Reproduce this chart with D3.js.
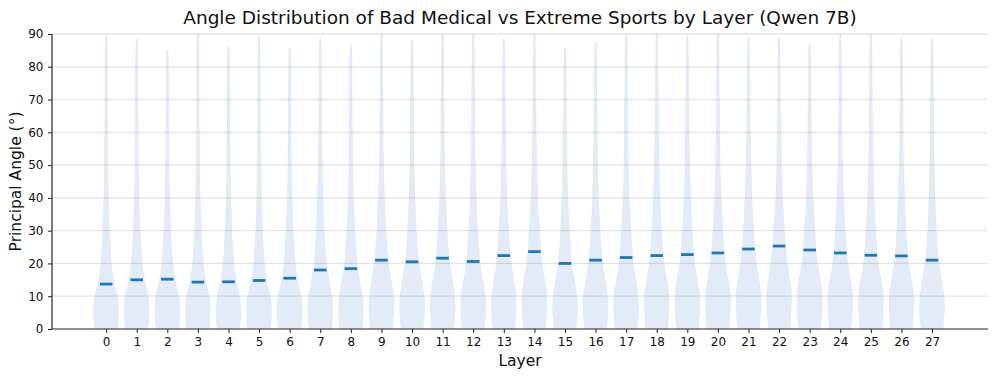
<!DOCTYPE html>
<html>
<head>
<meta charset="utf-8">
<script src="https://cdn.jsdelivr.net/npm/d3@7"></script>
<style>
  body { margin: 0; background: #fff; }
  svg text { font-family: "DejaVu Sans", sans-serif; fill: #111; }
</style>
</head>
<body>
<svg id="chart" width="997" height="378"></svg>
<script>
// layers 0..27
var layers = d3.range(0, 28);

// median principal angle per layer (dark bar)
var medians = [13.7, 15.0, 15.2, 14.3, 14.4, 14.8, 15.5, 18.0, 18.4, 21.0,
               20.5, 21.6, 20.6, 22.4, 23.6, 20.0, 21.0, 21.8, 22.4, 22.7,
               23.2, 24.4, 25.3, 24.1, 23.2, 22.5, 22.3, 21.0];

// top of each violin tail
var maxAngles = [89.5, 88.5, 85.1, 90.5, 86.3, 89.2, 85.6, 88.9, 86.8, 90.5,
                 88.2, 90.5, 90.5, 88.6, 90.5, 85.7, 87.6, 89.5, 90.5, 89.5,
                 90.5, 88.8, 89.0, 87.1, 90.5, 90.5, 89.1, 88.5];

var knotAngles = [0, 3, 6, 10, 15, 20, 25, 30, 40, 50, 60, 70, 80];

// relative half-width (1 = widest) at each knot, one row per layer
var violinWidths = [
  [0.90, 0.98, 1.00, 0.90, 0.58, 0.43, 0.34, 0.27, 0.19, 0.14, 0.12, 0.11, 0.10],
  [0.90, 0.98, 1.00, 0.91, 0.62, 0.45, 0.35, 0.28, 0.19, 0.14, 0.12, 0.11, 0.10],
  [0.90, 0.98, 1.00, 0.91, 0.63, 0.45, 0.35, 0.28, 0.19, 0.14, 0.12, 0.11, 0.09],
  [0.90, 0.98, 1.00, 0.90, 0.60, 0.44, 0.34, 0.27, 0.19, 0.14, 0.12, 0.11, 0.10],
  [0.90, 0.98, 1.00, 0.90, 0.60, 0.44, 0.34, 0.27, 0.19, 0.14, 0.12, 0.11, 0.10],
  [0.90, 0.98, 1.00, 0.90, 0.61, 0.44, 0.35, 0.28, 0.19, 0.14, 0.12, 0.11, 0.10],
  [0.90, 0.98, 1.00, 0.91, 0.64, 0.46, 0.36, 0.29, 0.20, 0.15, 0.12, 0.11, 0.09],
  [0.90, 0.97, 1.00, 0.93, 0.70, 0.50, 0.40, 0.32, 0.22, 0.16, 0.13, 0.11, 0.10],
  [0.90, 0.97, 1.00, 0.93, 0.71, 0.51, 0.41, 0.33, 0.22, 0.16, 0.13, 0.11, 0.10],
  [0.88, 0.95, 1.00, 0.97, 0.77, 0.56, 0.45, 0.37, 0.25, 0.18, 0.14, 0.12, 0.10],
  [0.88, 0.95, 1.00, 0.96, 0.76, 0.55, 0.44, 0.36, 0.24, 0.17, 0.14, 0.12, 0.10],
  [0.88, 0.95, 1.00, 0.97, 0.78, 0.57, 0.46, 0.37, 0.25, 0.18, 0.14, 0.12, 0.10],
  [0.88, 0.95, 1.00, 0.96, 0.76, 0.55, 0.45, 0.36, 0.25, 0.18, 0.14, 0.12, 0.10],
  [0.87, 0.94, 0.99, 0.98, 0.80, 0.60, 0.47, 0.39, 0.26, 0.19, 0.15, 0.12, 0.10],
  [0.86, 0.93, 0.98, 1.00, 0.83, 0.62, 0.49, 0.41, 0.28, 0.20, 0.15, 0.12, 0.10],
  [0.88, 0.95, 1.00, 0.96, 0.75, 0.54, 0.44, 0.36, 0.24, 0.17, 0.14, 0.12, 0.09],
  [0.88, 0.95, 1.00, 0.97, 0.77, 0.56, 0.45, 0.37, 0.25, 0.18, 0.14, 0.12, 0.10],
  [0.88, 0.95, 1.00, 0.97, 0.78, 0.57, 0.46, 0.38, 0.25, 0.18, 0.14, 0.12, 0.10],
  [0.87, 0.94, 0.99, 0.98, 0.80, 0.59, 0.47, 0.39, 0.26, 0.19, 0.15, 0.12, 0.10],
  [0.87, 0.94, 0.99, 0.98, 0.81, 0.60, 0.48, 0.39, 0.26, 0.19, 0.15, 0.12, 0.10],
  [0.86, 0.93, 0.98, 1.00, 0.82, 0.61, 0.48, 0.40, 0.27, 0.19, 0.15, 0.12, 0.10],
  [0.85, 0.93, 0.98, 1.00, 0.84, 0.64, 0.50, 0.42, 0.28, 0.20, 0.15, 0.12, 0.10],
  [0.85, 0.92, 0.97, 1.00, 0.86, 0.67, 0.52, 0.44, 0.28, 0.20, 0.15, 0.12, 0.10],
  [0.85, 0.93, 0.98, 1.00, 0.84, 0.63, 0.50, 0.42, 0.28, 0.20, 0.15, 0.12, 0.10],
  [0.86, 0.93, 0.98, 1.00, 0.82, 0.61, 0.48, 0.40, 0.27, 0.19, 0.15, 0.12, 0.10],
  [0.87, 0.94, 0.99, 0.98, 0.80, 0.59, 0.47, 0.39, 0.26, 0.19, 0.15, 0.12, 0.10],
  [0.87, 0.94, 0.99, 0.98, 0.79, 0.58, 0.46, 0.38, 0.26, 0.18, 0.14, 0.12, 0.10],
  [0.88, 0.95, 1.00, 0.96, 0.76, 0.55, 0.44, 0.36, 0.25, 0.18, 0.14, 0.12, 0.10]
];

var yTicks = [0, 10, 20, 30, 40, 50, 60, 70, 80, 90];

var titleText = "Angle Distribution of Bad Medical vs Extreme Sports by Layer (Qwen 7B)";
var xLabelText = "Layer";
var yLabelText = "Principal Angle (°)";

/* ---- setup ---- */
var W = 997, H = 378;
var margin = { top: 34, right: 9, bottom: 49, left: 52 };
var plotW = W - margin.left - margin.right;
var plotH = H - margin.top - margin.bottom;

var svg = d3.select("#chart");
var g = svg.append("g").attr("transform", "translate(" + margin.left + "," + margin.top + ")");

var x = d3.scaleLinear().domain([-1.77, 28.83]).range([0, plotW]);
var y = d3.scaleLinear().domain([0, 90]).range([plotH, 0]);

var halfWidth = 0.41;   // data units, widest point of a violin
var medianHalf = 0.205;

g.append("clipPath").attr("id", "plotclip")
  .append("rect").attr("x", 0).attr("y", 0).attr("width", plotW).attr("height", plotH);

/* gridlines */
g.append("g").attr("class", "grid")
  .selectAll("line")
  .data(yTicks.filter(function(d) { return d > 0; }))
  .enter().append("line")
  .attr("x1", 0).attr("x2", plotW)
  .attr("y1", function(d) { return y(d); })
  .attr("y2", function(d) { return y(d); })
  .attr("stroke", "#e1e4e8")
  .attr("stroke-width", 1.3);

/* violins */
var area = d3.area()
  .curve(d3.curveMonotoneY)
  .y(function(d) { return y(d.angle); })
  .x0(function(d) { return x(d.layer) - x(d.w) + x(0); })
  .x1(function(d) { return x(d.layer) + x(d.w) - x(0); });

var violinG = g.append("g").attr("clip-path", "url(#plotclip)");

layers.forEach(function(layer, i) {
  var pts = [];
  knotAngles.forEach(function(a, k) {
    if (a < maxAngles[i]) pts.push({ layer: layer, angle: a, w: violinWidths[i][k] * halfWidth });
  });
  pts.push({ layer: layer, angle: maxAngles[i] - 0.6, w: 0.07 * halfWidth });
  pts.push({ layer: layer, angle: maxAngles[i], w: 0.035 * halfWidth });

  violinG.append("path")
    .datum(pts)
    .attr("d", area)
    .attr("fill", "rgba(40,100,185,0.13)")
    .attr("stroke", "rgba(40,100,185,0.05)")
    .attr("stroke-width", 0.8);
});

/* medians */
g.append("g").selectAll("line")
  .data(layers)
  .enter().append("line")
  .attr("x1", function(d) { return x(d - medianHalf); })
  .attr("x2", function(d) { return x(d + medianHalf); })
  .attr("y1", function(d, i) { return y(medians[i]); })
  .attr("y2", function(d, i) { return y(medians[i]); })
  .attr("stroke", "#1f77b4")
  .attr("stroke-width", 2.8);

/* axes */
var yAxis = d3.axisLeft(y).tickValues(yTicks).tickSize(4).tickPadding(4.5);
var xAxis = d3.axisBottom(x).tickValues(layers).tickFormat(d3.format("d")).tickSize(4).tickPadding(4.5);

var yg = g.append("g").call(yAxis);
var xg = g.append("g").attr("transform", "translate(0," + plotH + ")").call(xAxis);

[yg, xg].forEach(function(ax) {
  ax.select(".domain").attr("stroke", "#222").attr("stroke-width", 1.2);
  ax.selectAll(".tick line").attr("stroke", "#222").attr("stroke-width", 1);
  ax.selectAll(".tick text").attr("font-size", "12px").attr("fill", "#111")
    .attr("font-family", "DejaVu Sans, sans-serif");
});
// no end caps on the spines
yg.select(".domain").attr("d", "M0," + plotH + "V0");
xg.select(".domain").attr("d", "M0,0H" + plotW);

/* labels */
svg.append("text")
  .attr("x", margin.left + plotW / 2).attr("y", 24)
  .attr("text-anchor", "middle")
  .attr("font-size", "18.5px")
  .text(titleText);

svg.append("text")
  .attr("x", margin.left + plotW / 2).attr("y", 366)
  .attr("text-anchor", "middle")
  .attr("font-size", "15.5px")
  .text(xLabelText);

svg.append("text")
  .attr("transform", "translate(21," + (margin.top + plotH / 2) + ") rotate(-90)")
  .attr("text-anchor", "middle")
  .attr("font-size", "15.5px")
  .text(yLabelText);
</script>
</body>
</html>
